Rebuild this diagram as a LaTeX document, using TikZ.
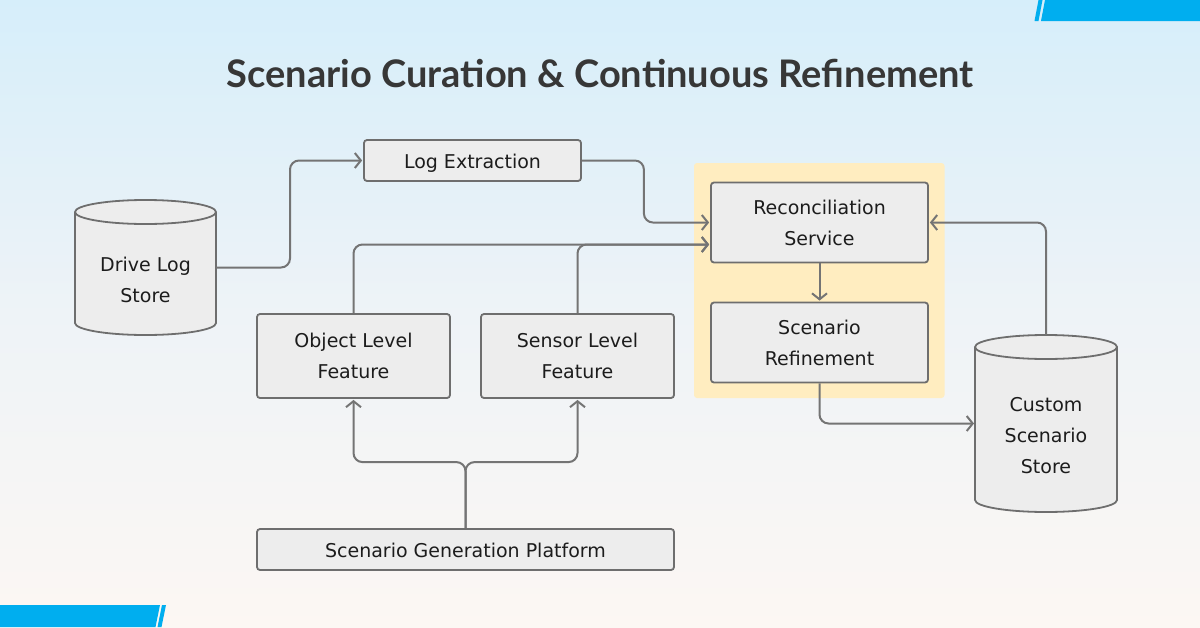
\documentclass[tikz,border=0pt]{standalone}
\usepackage{fontspec}
\setmainfont{DejaVu Sans}
\newfontfamily\titlefont{Lato}[UprightFont=* Bold]
\usetikzlibrary{arrows.meta}
\definecolor{bgtop}{HTML}{D6EEFA}
\definecolor{bgmid}{HTML}{EEF3F7}
\definecolor{bgbot}{HTML}{FCF7F3}
\definecolor{accent}{HTML}{00AEEF}
\definecolor{boxfill}{HTML}{EDEDED}
\definecolor{boxline}{HTML}{6E6E6E}
\definecolor{wirec}{HTML}{747474}
\definecolor{hl}{HTML}{FFEDC0}
\definecolor{txt}{HTML}{1C1C1C}
\definecolor{ttl}{HTML}{373737}
\begin{document}
\begin{tikzpicture}[x=1pt,y=-1pt,
  box/.style={draw=boxline, fill=boxfill, line width=1.8pt, rounded corners=3pt, inner sep=0pt},
  lbl/.style={text=txt, font=\fontsize{19}{31}\selectfont, align=center},
  oneline/.style={text height=19pt, text depth=4pt},
  wire/.style={draw=wirec, line width=2pt, rounded corners=9pt},
  arr/.style={wire, -{Straight Barb[length=6pt,width=15pt]}, shorten >=1pt},
  cyl/.style={draw=boxline, fill=boxfill, line width=1.8pt},
  ghost/.style={inner sep=0pt, outer sep=0pt}]
\useasboundingbox (0,0) rectangle (1200,627);
% background
\shade[top color=bgtop, bottom color=bgbot, middle color=bgmid] (0,0) rectangle (1200,627);
% corner bars
\fill[accent] (1045,0) -- (1200,0) -- (1200,21) -- (1041,21) -- cycle;
\fill[accent] (1038.5,0) -- (1042.5,0) -- (1038.5,21) -- (1034.5,21) -- cycle;
\fill[accent] (0,605) -- (160,605) -- (155.5,627) -- (0,627) -- cycle;
\fill[accent] (162,605) -- (166,605) -- (161.5,627) -- (157.5,627) -- cycle;
% title
\node[ghost, text=ttl, font=\titlefont\fontsize{38}{42}\selectfont] (title) at (600,73) {Scenario Curation \& Continuous Refinement};
% highlight
\fill[hl, rounded corners=3pt] (694,163) rectangle (944.5,398);
% cylinders
\draw[cyl] (75,212) -- (75,323) arc[start angle=180, end angle=360, x radius=70.5pt, y radius=12pt]
  -- (216,212) arc[start angle=0, end angle=180, x radius=70.5pt, y radius=12pt] -- cycle;
\draw[cyl, fill=none] (75,212) arc[start angle=180, end angle=360, x radius=70.5pt, y radius=12pt];
\node[ghost, minimum width=141pt, minimum height=135pt] (dls) at (145.5,267.5) {};
\node[lbl] (dlst) at (145.5,279.5) {Drive Log\\Store};
\draw[cyl] (975,347) -- (975,500) arc[start angle=180, end angle=360, x radius=71pt, y radius=12pt]
  -- (1117,347) arc[start angle=0, end angle=180, x radius=71pt, y radius=12pt] -- cycle;
\draw[cyl, fill=none] (975,347) arc[start angle=180, end angle=360, x radius=71pt, y radius=12pt];
\node[ghost, minimum width=142pt, minimum height=177pt] (css) at (1046,423.5) {};
\node[lbl] (csst) at (1046,435.5) {Custom\\Scenario\\Store};
% boxes
\node[box, lbl, oneline, minimum width=217pt, minimum height=41pt] (logx) at (472.5,160.5) {Log Extraction};
\node[box, lbl, minimum width=193pt, minimum height=84pt] (obj) at (353.5,356) {Object Level\\Feature};
\node[box, lbl, minimum width=193pt, minimum height=84pt] (sen) at (577.5,356) {Sensor Level\\Feature};
\node[box, lbl, oneline, minimum width=417pt, minimum height=41pt] (sgp) at (465.5,549.5) {Scenario Generation Platform};
\node[box, lbl, minimum width=217pt, minimum height=80pt] (rec) at (819.5,222.5) {Reconciliation\\Service};
\node[box, lbl, minimum width=217pt, minimum height=80pt] (ref) at (819.5,342.5) {Scenario\\Refinement};
\coordinate (recin) at ([yshift=-22pt]rec.west);
% connectors
\draw[arr] (dls.east) -- ++(74,0) |- (logx.west);
\draw[arr] (logx.east) -- ++(62,0) |- (rec.west);
\draw[arr] (obj.north) |- (recin);
\draw[arr] (sen.north) |- (recin);
\draw[arr] (rec.south) -- (ref.north);
\draw[arr] (ref.south) |- (css.west);
\draw[arr] (css.north) |- (rec.east);
\draw[arr] (sgp.north) -- ++(0,-66) -| (obj.south);
\draw[arr] (sgp.north) -- ++(0,-66) -| (sen.south);
\end{tikzpicture}
\end{document}
